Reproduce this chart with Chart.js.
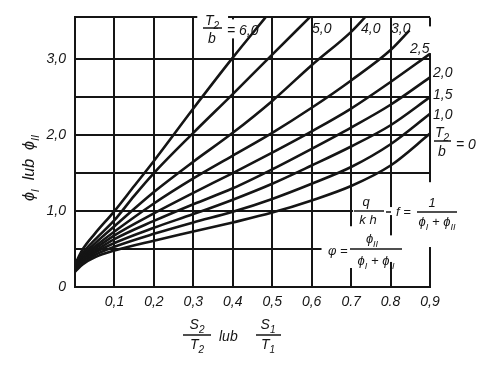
<!DOCTYPE html>
<html>
<head>
<meta charset="utf-8">
<script src="https://cdn.jsdelivr.net/npm/chart.js@4.4.0/dist/chart.umd.min.js"></script>
<style>
  html, body { margin: 0; padding: 0; background: #fff; }
</style>
</head>
<body>
<canvas id="phiChart" width="483" height="365"></canvas>
<script>
// axis ticks
const xTicks = [0, 0.1, 0.2, 0.3, 0.4, 0.5, 0.6, 0.7, 0.8, 0.9];
const xTickLabels = ['', '0,1', '0,2', '0,3', '0,4', '0,5', '0,6', '0.7', '0.8', '0,9'];
const yTicks = [0, 0.5, 1, 1.5, 2, 2.5, 3, 3.55];
const yTickLabels = ['0', '', '1,0', '', '2,0', '', '3,0', ''];

// curves for T2/b, points [S/T, phi]
const curveNames = ['6,0', '5,0', '4,0', '3,0', '2,5', '2,0', '1,5', '1,0', '0'];
const curve60 = [[0, 0.3], [0.02, 0.5], [0.05, 0.7], [0.1, 1.0], [0.15, 1.33], [0.2, 1.66], [0.3, 2.35], [0.4, 3.02], [0.483, 3.55]];
const curve50 = [[0, 0.28], [0.02, 0.45], [0.05, 0.62], [0.1, 0.88], [0.15, 1.2], [0.2, 1.5], [0.3, 2.03], [0.4, 2.54], [0.5, 3.06], [0.595, 3.55]];
const curve40 = [[0, 0.26], [0.02, 0.42], [0.05, 0.57], [0.1, 0.8], [0.2, 1.25], [0.3, 1.65], [0.4, 2.03], [0.5, 2.45], [0.6, 2.92], [0.7, 3.36], [0.735, 3.55]];
const curve30 = [[0, 0.25], [0.02, 0.4], [0.05, 0.53], [0.1, 0.73], [0.2, 1.1], [0.3, 1.43], [0.4, 1.73], [0.5, 2.03], [0.6, 2.36], [0.7, 2.72], [0.8, 3.12], [0.848, 3.38]];
const curve25 = [[0, 0.24], [0.02, 0.38], [0.05, 0.5], [0.1, 0.68], [0.2, 0.97], [0.3, 1.24], [0.4, 1.5], [0.5, 1.77], [0.6, 2.05], [0.7, 2.35], [0.8, 2.7], [0.9, 3.07]];
const curve20 = [[0, 0.23], [0.02, 0.36], [0.05, 0.47], [0.1, 0.63], [0.2, 0.87], [0.3, 1.09], [0.4, 1.3], [0.5, 1.55], [0.6, 1.82], [0.7, 2.1], [0.8, 2.4], [0.9, 2.76]];
const curve15 = [[0, 0.22], [0.02, 0.34], [0.05, 0.45], [0.1, 0.58], [0.2, 0.78], [0.3, 0.96], [0.4, 1.15], [0.5, 1.36], [0.6, 1.6], [0.7, 1.85], [0.8, 2.13], [0.9, 2.5]];
const curve10 = [[0, 0.21], [0.02, 0.32], [0.05, 0.42], [0.1, 0.53], [0.2, 0.7], [0.3, 0.85], [0.4, 0.99], [0.5, 1.16], [0.6, 1.36], [0.7, 1.58], [0.8, 1.88], [0.9, 2.28]];
const curve00 = [[0, 0.2], [0.02, 0.3], [0.05, 0.39], [0.1, 0.48], [0.2, 0.61], [0.3, 0.73], [0.4, 0.85], [0.5, 0.98], [0.6, 1.14], [0.7, 1.33], [0.8, 1.6], [0.9, 2.02]];

const curves = [curve60, curve50, curve40, curve30, curve25, curve20, curve15, curve10, curve00];

const FONT = '"Liberation Sans", "DejaVu Sans", sans-serif';
const INK = '#151515';

function setFont(ctx, size) {
  ctx.font = 'italic ' + size + 'px ' + FONT;
}

// draws text pieces, a piece [text, true] is a subscript
function rich(ctx, parts, x, y, size, align) {
  const subSize = Math.round(size * 0.7);
  let w = 0;
  parts.forEach(p => {
    setFont(ctx, p[1] ? subSize : size);
    w += ctx.measureText(p[0]).width;
  });
  let cx = align === 'center' ? x - w / 2 : x;
  parts.forEach(p => {
    setFont(ctx, p[1] ? subSize : size);
    ctx.fillText(p[0], cx, p[1] ? y + size * 0.3 : y);
    cx += ctx.measureText(p[0]).width;
  });
  return w;
}

function bar(ctx, x0, x1, y) {
  ctx.beginPath();
  ctx.moveTo(x0, y);
  ctx.lineTo(x1, y);
  ctx.stroke();
}

const sketchLabels = {
  id: 'sketchLabels',
  beforeDatasetsDraw(chart) {
    const {ctx, chartArea, scales} = chart;
    const px = v => scales.x.getPixelForValue(v);
    const py = v => scales.y.getPixelForValue(v);
    const top = chartArea.top;
    ctx.save();
    ctx.fillStyle = '#fff';
    // places where the printed labels break the grid
    ctx.fillRect(px(0.31), top - 5, px(0.388) - px(0.31), 10);
    ctx.fillRect(px(0.4) - 4, top + 2, 8, py(3.3) - top);
    ctx.fillRect(px(0.9) - 4, top + 9, 8, py(3.08) - top - 9);
    ctx.fillRect(px(0.9) - 4, py(1.38), 8, py(0.5) - py(1.38) - 2);
    ctx.fillRect(px(0.7) + 2, py(1) - 4, px(0.9) - px(0.7) + 2, 8);
    ctx.fillRect(px(0.625), py(0.5) - 4, px(0.9) - px(0.625) - 1, 8);
    ctx.fillRect(px(0.7) - 4, py(0.8), 8, py(0.25) - py(0.8));
    ctx.fillRect(px(0.8) - 4, py(0.68), 8, py(0.33) - py(0.68));
    ctx.restore();
  },
  afterDatasetsDraw(chart) {
    const {ctx} = chart;
    ctx.save();
    ctx.fillStyle = INK;
    ctx.strokeStyle = INK;
    ctx.lineWidth = 1.5;
    ctx.textBaseline = 'alphabetic';

    // T2/b = 6,0
    rich(ctx, [['T', false], ['2', true]], 212, 25, 14, 'center');
    bar(ctx, 203, 222, 28);
    rich(ctx, [['b', false]], 212, 43, 14, 'center');
    rich(ctx, [['= 6,0', false]], 227, 35, 14, 'left');

    // curve end labels
    rich(ctx, [['5,0', false]], 312, 33, 14, 'left');
    rich(ctx, [['4,0', false]], 361, 33, 14, 'left');
    rich(ctx, [['3,0', false]], 391, 33, 14, 'left');
    rich(ctx, [['2,5', false]], 410, 53, 14, 'left');
    rich(ctx, [['2,0', false]], 433, 77, 14, 'left');
    rich(ctx, [['1,5', false]], 433, 99, 14, 'left');
    rich(ctx, [['1,0', false]], 433, 119, 14, 'left');
    rich(ctx, [['T', false], ['2', true]], 442, 137, 14, 'center');
    bar(ctx, 434, 451, 141);
    rich(ctx, [['b', false]], 442, 156, 14, 'center');
    rich(ctx, [['= 0', false]], 456, 149, 14, 'left');

    // q/kh = f = 1/(phiI + phiII)
    rich(ctx, [['q', false]], 366, 206, 13, 'center');
    bar(ctx, 354, 384, 211);
    rich(ctx, [['k h', false]], 368, 224, 13, 'center');
    bar(ctx, 386, 391, 212);
    rich(ctx, [['f =', false]], 396, 216, 13, 'left');
    rich(ctx, [['1', false]], 432, 207, 13, 'center');
    bar(ctx, 417, 457, 212);
    rich(ctx, [['ϕ', false], ['I', true], [' + ϕ', false], ['II', true]], 437, 226, 13, 'center');

    // phi = phiII/(phiI + phiII)
    rich(ctx, [['φ =', false]], 328, 255, 13, 'left');
    rich(ctx, [['ϕ', false], ['II', true]], 372, 243, 13, 'center');
    bar(ctx, 350, 402, 249);
    rich(ctx, [['ϕ', false], ['I', true], [' + ϕ', false], ['II', true]], 376, 265, 13, 'center');

    // x axis title
    rich(ctx, [['S', false], ['2', true]], 197, 329, 14, 'center');
    bar(ctx, 183, 211, 335);
    rich(ctx, [['T', false], ['2', true]], 197, 349, 14, 'center');
    rich(ctx, [['lub', false]], 219, 341, 14, 'left');
    rich(ctx, [['S', false], ['1', true]], 268, 329, 14, 'center');
    bar(ctx, 256, 281, 335);
    rich(ctx, [['T', false], ['1', true]], 268, 349, 14, 'center');

    // y axis title
    ctx.translate(29, 168);
    ctx.rotate(-Math.PI / 2);
    rich(ctx, [['ϕ', false], ['I', true], ['  lub  ϕ', false], ['II', true]], 0, 5, 16, 'center');
    ctx.restore();
  }
};

const ctx = document.getElementById('phiChart').getContext('2d');

new Chart(ctx, {
  type: 'line',
  data: {
    datasets: curves.map((pts, i) => ({
      label: curveNames[i],
      data: pts.map(p => ({x: p[0], y: p[1]})),
      borderColor: INK,
      borderWidth: 2.6,
      pointRadius: 0,
      fill: false,
      cubicInterpolationMode: 'monotone'
    }))
  },
  options: {
    responsive: false,
    animation: false,
    devicePixelRatio: 1,
    layout: {padding: {top: 17, right: 53, left: 0, bottom: 0}},
    plugins: {legend: {display: false}, tooltip: {enabled: false}},
    scales: {
      x: {
        type: 'linear',
        min: 0,
        max: 0.9,
        afterBuildTicks: scale => { scale.ticks = xTicks.map(v => ({value: v})); },
        afterFit: scale => { scale.height = 78; },
        grid: {color: INK, lineWidth: 2, drawTicks: false},
        border: {color: INK, width: 2},
        ticks: {
          padding: 7,
          color: INK,
          font: {family: FONT, size: 14, style: 'italic'},
          maxRotation: 0,
          autoSkip: false,
          callback: (v, i) => xTickLabels[i]
        }
      },
      y: {
        type: 'linear',
        min: 0,
        max: 3.55,
        afterBuildTicks: scale => { scale.ticks = yTicks.map(v => ({value: v})); },
        afterFit: scale => { scale.width = 75; },
        grid: {color: INK, lineWidth: 2, drawTicks: false},
        border: {color: INK, width: 2},
        ticks: {
          padding: 9,
          color: INK,
          font: {family: FONT, size: 14, style: 'italic'},
          autoSkip: false,
          callback: (v, i) => yTickLabels[i]
        }
      }
    }
  },
  plugins: [sketchLabels]
});
</script>
</body>
</html>
